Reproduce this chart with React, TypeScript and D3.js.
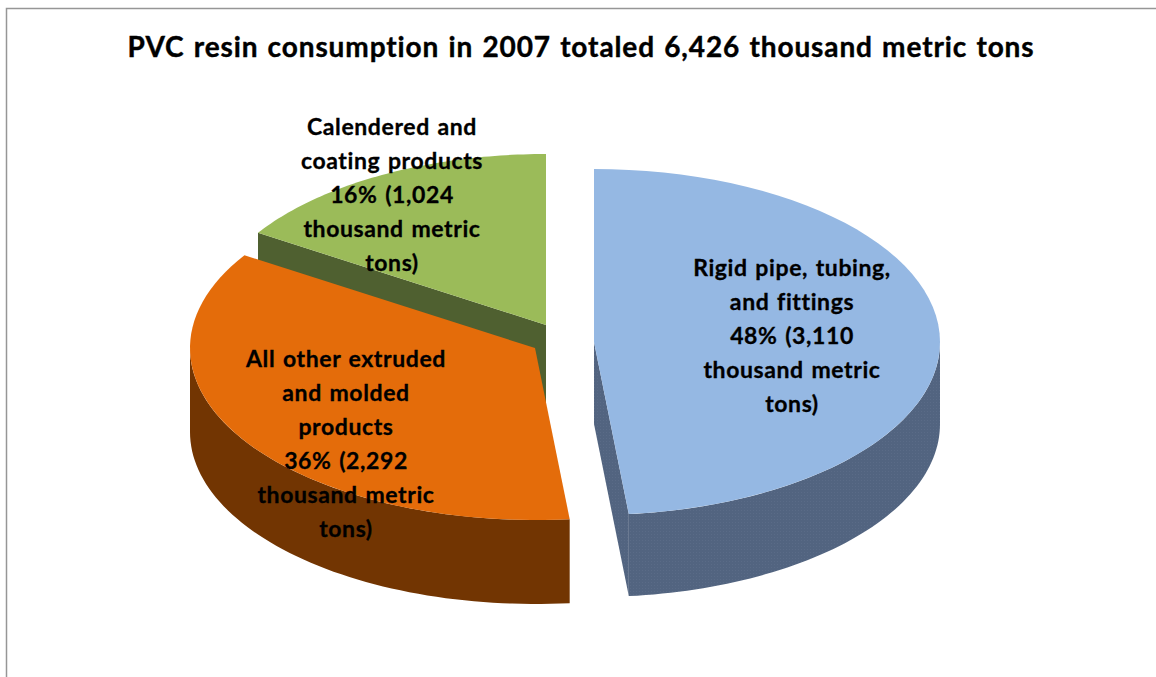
import React from "react";
import * as d3 from "d3";

const title = "PVC resin consumption in 2007 totaled 6,426 thousand metric tons";
const categories = ["Rigid pipe, tubing, and fittings", "All other extruded and molded products", "Calendered and coating products"];
const values = [3110, 2292, 1024];
const topColors = ["#95b8e3", "#e46c0a", "#9bbb59"];
const sideColors = ["url(#tex)", "#723502", "#4f6030"];
const labelLines = [
  ["Rigid pipe, tubing,", "and fittings", "48% (3,110", "thousand metric", "tons)"],
  ["All other extruded", "and molded", "products", "36% (2,292", "thousand metric", "tons)"],
  ["Calendered and", "coating products", "16% (1,024", "thousand metric", "tons)"],
];

const W = 1156, H = 677;
const layout = [
  { cx: 594, cy: 342, rx: 346, ry: 173, depth: 82, lx: 792, ly: 268, cut: "end" },
  { cx: 535, cy: 348, rx: 345, ry: 172, depth: 84, lx: 346, ly: 359, cut: "none" },
  { cx: 546, cy: 325, rx: 342, ry: 171, depth: 82, lx: 392, ly: 127, cut: "both" },
];
const LINE = 34;

export default function App() {
  const pie = d3.pie<number>().sort(null).startAngle(0).endAngle(2 * Math.PI);
  const arcs = pie(values);
  const line = d3.line<[number, number]>().curve(d3.curveLinear);
  const sample = (a0: number, a1: number, l: any, dy = 0) =>
    d3.range(0, 61).map((i) => {
      const a = a0 + ((a1 - a0) * i) / 60;
      return [l.cx + l.rx * Math.sin(a), l.cy - l.ry * Math.cos(a) + dy] as [number, number];
    });
  const order = [2, 0, 1];
  return (
    <svg width={W} height={H} style={{ position: "absolute", left: 0, top: 0 }}>
      <defs>
        <pattern id="tex" width="3" height="3" patternUnits="userSpaceOnUse">
          <rect width="3" height="3" fill="#526480" />
          <rect width="1" height="1" fill="#5a6b87" />
        </pattern>
      </defs>
      <rect width={W} height={H} fill="#fff" />
      <path d={`M6.5,${H} V8.5 H${W}`} fill="none" stroke="#969696" strokeWidth={1.5} />
      <text x={581} y={57} textAnchor="middle" fontFamily="Lato" fontWeight={700} fontSize={28} letterSpacing={0.9} wordSpacing={1.5} stroke="#000" strokeWidth={0.4} style={{ fontVariantLigatures: "none" }} fill="#000">{title}</text>
      {order.map((i) => {
        const d = arcs[i];
        const l = layout[i];
        const a0 = Math.max(d.startAngle, Math.PI / 2);
        const a1 = Math.min(d.endAngle, 1.5 * Math.PI);
        const walls: React.ReactNode[] = [];
        if (a1 > a0) {
          const top = sample(a0, a1, l);
          const bottom = sample(a0, a1, l, l.depth).reverse();
          walls.push(<path key="o" d={line([...top, ...bottom])! + "Z"} fill={sideColors[i]} />);
        }
        const cutWall = (a: number, k: string) => {
          const e = sample(a, a, l)[0];
          const pts: [number, number][] = [[l.cx, l.cy], e, [e[0], e[1] + l.depth], [l.cx, l.cy + l.depth]];
          return <path key={k} d={line(pts)! + "Z"} fill={sideColors[i]} />;
        };
        if (l.cut === "end") walls.push(cutWall(d.endAngle, "e"));
        if (l.cut === "both") {
          walls.push(cutWall(d.startAngle, "s"));
          walls.push(cutWall(d.endAngle, "e2"));
        }
        const top = [[l.cx, l.cy] as [number, number], ...sample(d.startAngle, d.endAngle, l)];
        return (
          <g key={categories[i]}>
            {walls}
            <path d={line(top)! + "Z"} fill={topColors[i]} />
          </g>
        );
      })}
      {labelLines.map((lines, i) =>
        lines.map((t, j) => (
          <text key={i + "-" + j} x={layout[i].lx} y={layout[i].ly + j * LINE} dy="0.35em" textAnchor="middle" fontFamily="Lato" fontWeight={700} fontSize={23} letterSpacing={0.6} wordSpacing={1.5} stroke="#000" strokeWidth={0.3} style={{ fontVariantLigatures: "none" }} fill="#000">{t}</text>
        ))
      )}
    </svg>
  );
}
